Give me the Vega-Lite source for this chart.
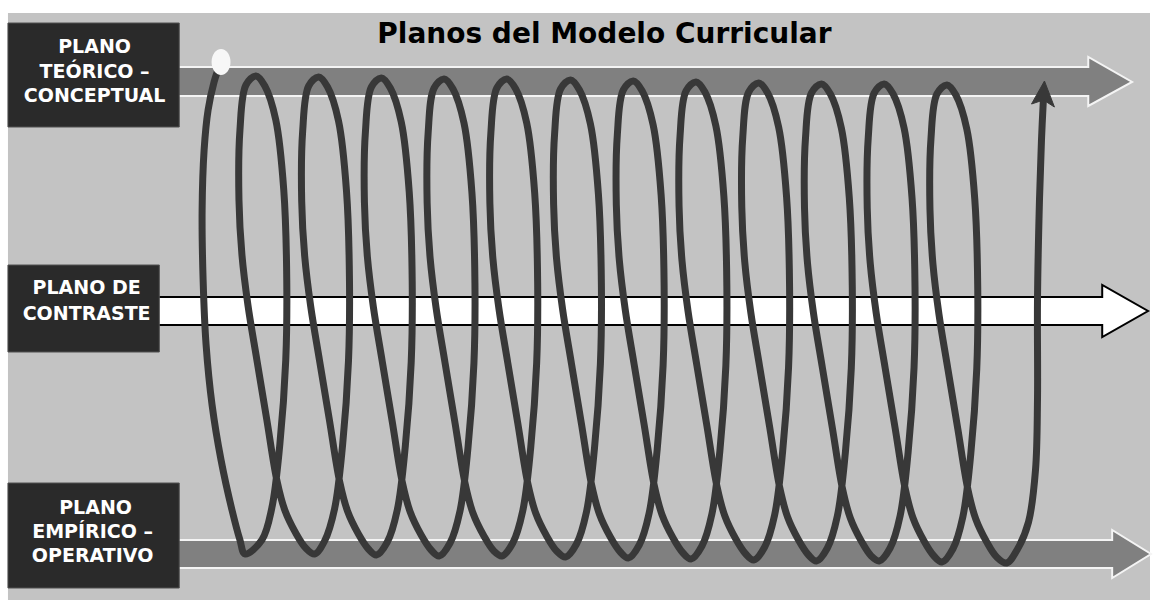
{
  "$schema": "https://vega.github.io/schema/vega-lite/v6.json",
  "width": 1155,
  "height": 600,
  "autosize": {"type": "fit", "contains": "padding"},
  "padding": 0,
  "background": "#ffffff",
  "config": {"view": {"stroke": null}},
  "datasets": {
    "fondo": [{"x": 8, "y": 13, "x2": 1155, "y2": 600}],
    "cajas": [
      {"x": 8, "y": 23, "x2": 180, "y2": 127},
      {"x": 8, "y": 265, "x2": 160, "y2": 352},
      {"x": 8, "y": 483, "x2": 180, "y2": 588}
    ],
    "flechaSup": [
      {"x": 178, "y": 67}, {"x": 1093, "y": 67}, {"x": 1093, "y": 57}, {"x": 1137, "y": 82},
      {"x": 1093, "y": 106}, {"x": 1093, "y": 96}, {"x": 178, "y": 96}
    ],
    "flechaMed": [
      {"x": 158, "y": 297}, {"x": 1107, "y": 297}, {"x": 1107, "y": 285}, {"x": 1153, "y": 311},
      {"x": 1107, "y": 337}, {"x": 1107, "y": 325}, {"x": 158, "y": 325}
    ],
    "flechaInf": [
      {"x": 178, "y": 540}, {"x": 1117, "y": 540}, {"x": 1117, "y": 530}, {"x": 1156, "y": 554},
      {"x": 1117, "y": 578}, {"x": 1117, "y": 568}, {"x": 178, "y": 568}
    ],
    "espiral": [
      {"x": 221, "y": 64}, {"x": 215, "y": 82}, {"x": 209, "y": 110}, {"x": 205, "y": 150}, {"x": 203, "y": 210}, {"x": 204, "y": 280}, {"x": 207, "y": 345}, {"x": 213, "y": 405}, {"x": 222, "y": 460}, {"x": 233, "y": 510}, {"x": 241, "y": 540}, {"x": 246, "y": 554},
      {"x": 263, "y": 540}, {"x": 273, "y": 508}, {"x": 281, "y": 445}, {"x": 287, "y": 360}, {"x": 288, "y": 280}, {"x": 285, "y": 190}, {"x": 277, "y": 120}, {"x": 266, "y": 86}, {"x": 257, "y": 76},
      {"x": 247, "y": 85}, {"x": 241, "y": 130}, {"x": 240, "y": 200}, {"x": 243, "y": 255}, {"x": 249, "y": 305}, {"x": 258, "y": 360}, {"x": 268, "y": 420}, {"x": 278, "y": 480}, {"x": 286, "y": 510}, {"x": 297, "y": 533}, {"x": 307, "y": 548},
      {"x": 316, "y": 554},
      {"x": 326, "y": 541}, {"x": 336, "y": 509}, {"x": 344, "y": 446}, {"x": 350, "y": 361}, {"x": 351, "y": 281}, {"x": 348, "y": 191}, {"x": 340, "y": 121}, {"x": 329, "y": 87}, {"x": 320, "y": 77},
      {"x": 310, "y": 86}, {"x": 304, "y": 131}, {"x": 303, "y": 201}, {"x": 306, "y": 256}, {"x": 312, "y": 306}, {"x": 321, "y": 361}, {"x": 331, "y": 421}, {"x": 341, "y": 481}, {"x": 349, "y": 511}, {"x": 360, "y": 534}, {"x": 370, "y": 549},
      {"x": 378, "y": 555},
      {"x": 389, "y": 542}, {"x": 399, "y": 510}, {"x": 407, "y": 447}, {"x": 413, "y": 362}, {"x": 414, "y": 282}, {"x": 411, "y": 192}, {"x": 403, "y": 122}, {"x": 392, "y": 88}, {"x": 383, "y": 78},
      {"x": 373, "y": 87}, {"x": 367, "y": 132}, {"x": 366, "y": 202}, {"x": 369, "y": 257}, {"x": 375, "y": 307}, {"x": 384, "y": 362}, {"x": 394, "y": 422}, {"x": 404, "y": 482}, {"x": 412, "y": 512}, {"x": 423, "y": 535}, {"x": 433, "y": 550},
      {"x": 441, "y": 556},
      {"x": 452, "y": 543}, {"x": 462, "y": 511}, {"x": 470, "y": 448}, {"x": 476, "y": 363}, {"x": 477, "y": 283}, {"x": 474, "y": 193}, {"x": 466, "y": 123}, {"x": 455, "y": 89}, {"x": 446, "y": 79},
      {"x": 436, "y": 88}, {"x": 430, "y": 133}, {"x": 429, "y": 203}, {"x": 432, "y": 258}, {"x": 438, "y": 308}, {"x": 447, "y": 363}, {"x": 457, "y": 423}, {"x": 467, "y": 483}, {"x": 475, "y": 513}, {"x": 486, "y": 536}, {"x": 496, "y": 551},
      {"x": 504, "y": 556},
      {"x": 515, "y": 543}, {"x": 525, "y": 511}, {"x": 533, "y": 448}, {"x": 539, "y": 363}, {"x": 540, "y": 283}, {"x": 537, "y": 193}, {"x": 529, "y": 123}, {"x": 518, "y": 89}, {"x": 509, "y": 79},
      {"x": 499, "y": 88}, {"x": 493, "y": 133}, {"x": 492, "y": 203}, {"x": 495, "y": 258}, {"x": 501, "y": 308}, {"x": 510, "y": 363}, {"x": 520, "y": 423}, {"x": 530, "y": 483}, {"x": 538, "y": 513}, {"x": 549, "y": 536}, {"x": 559, "y": 551},
      {"x": 568, "y": 557},
      {"x": 579, "y": 544}, {"x": 589, "y": 512}, {"x": 597, "y": 449}, {"x": 603, "y": 364}, {"x": 604, "y": 284}, {"x": 601, "y": 194}, {"x": 593, "y": 124}, {"x": 582, "y": 90}, {"x": 573, "y": 80},
      {"x": 563, "y": 89}, {"x": 557, "y": 134}, {"x": 556, "y": 204}, {"x": 559, "y": 259}, {"x": 565, "y": 309}, {"x": 574, "y": 364}, {"x": 584, "y": 424}, {"x": 594, "y": 484}, {"x": 602, "y": 514}, {"x": 613, "y": 537}, {"x": 623, "y": 552},
      {"x": 631, "y": 558},
      {"x": 642, "y": 545}, {"x": 652, "y": 513}, {"x": 660, "y": 450}, {"x": 666, "y": 365}, {"x": 667, "y": 285}, {"x": 664, "y": 195}, {"x": 656, "y": 125}, {"x": 645, "y": 91}, {"x": 636, "y": 81},
      {"x": 626, "y": 90}, {"x": 620, "y": 135}, {"x": 619, "y": 205}, {"x": 622, "y": 260}, {"x": 628, "y": 310}, {"x": 637, "y": 365}, {"x": 647, "y": 425}, {"x": 657, "y": 485}, {"x": 665, "y": 515}, {"x": 676, "y": 538}, {"x": 686, "y": 553},
      {"x": 694, "y": 559},
      {"x": 705, "y": 546}, {"x": 715, "y": 514}, {"x": 723, "y": 451}, {"x": 729, "y": 366}, {"x": 730, "y": 286}, {"x": 727, "y": 196}, {"x": 719, "y": 126}, {"x": 708, "y": 92}, {"x": 699, "y": 82},
      {"x": 689, "y": 91}, {"x": 683, "y": 136}, {"x": 682, "y": 206}, {"x": 685, "y": 261}, {"x": 691, "y": 311}, {"x": 700, "y": 366}, {"x": 710, "y": 426}, {"x": 720, "y": 486}, {"x": 728, "y": 516}, {"x": 739, "y": 539}, {"x": 749, "y": 554},
      {"x": 757, "y": 560},
      {"x": 768, "y": 547}, {"x": 778, "y": 515}, {"x": 786, "y": 452}, {"x": 792, "y": 367}, {"x": 793, "y": 287}, {"x": 790, "y": 197}, {"x": 782, "y": 127}, {"x": 771, "y": 93}, {"x": 762, "y": 83},
      {"x": 752, "y": 92}, {"x": 746, "y": 137}, {"x": 745, "y": 207}, {"x": 748, "y": 262}, {"x": 754, "y": 312}, {"x": 763, "y": 367}, {"x": 773, "y": 427}, {"x": 783, "y": 487}, {"x": 791, "y": 517}, {"x": 802, "y": 540}, {"x": 812, "y": 555},
      {"x": 820, "y": 561},
      {"x": 831, "y": 548}, {"x": 841, "y": 516}, {"x": 849, "y": 453}, {"x": 855, "y": 368}, {"x": 856, "y": 288}, {"x": 853, "y": 198}, {"x": 845, "y": 128}, {"x": 834, "y": 94}, {"x": 825, "y": 84},
      {"x": 815, "y": 93}, {"x": 809, "y": 138}, {"x": 808, "y": 208}, {"x": 811, "y": 263}, {"x": 817, "y": 313}, {"x": 826, "y": 368}, {"x": 836, "y": 428}, {"x": 846, "y": 488}, {"x": 854, "y": 518}, {"x": 865, "y": 541}, {"x": 875, "y": 556},
      {"x": 883, "y": 561},
      {"x": 894, "y": 548}, {"x": 904, "y": 516}, {"x": 912, "y": 453}, {"x": 918, "y": 368}, {"x": 919, "y": 288}, {"x": 916, "y": 198}, {"x": 908, "y": 128}, {"x": 897, "y": 94}, {"x": 888, "y": 84},
      {"x": 878, "y": 93}, {"x": 872, "y": 138}, {"x": 871, "y": 208}, {"x": 874, "y": 263}, {"x": 880, "y": 313}, {"x": 889, "y": 368}, {"x": 899, "y": 428}, {"x": 909, "y": 488}, {"x": 917, "y": 518}, {"x": 928, "y": 541}, {"x": 938, "y": 556},
      {"x": 946, "y": 562},
      {"x": 957, "y": 549}, {"x": 967, "y": 517}, {"x": 975, "y": 454}, {"x": 981, "y": 369}, {"x": 982, "y": 289}, {"x": 979, "y": 199}, {"x": 971, "y": 129}, {"x": 960, "y": 95}, {"x": 951, "y": 85},
      {"x": 941, "y": 94}, {"x": 935, "y": 139}, {"x": 934, "y": 209}, {"x": 937, "y": 264}, {"x": 943, "y": 314}, {"x": 952, "y": 369}, {"x": 962, "y": 429}, {"x": 972, "y": 489}, {"x": 980, "y": 519}, {"x": 991, "y": 542}, {"x": 1001, "y": 557},
      {"x": 1011, "y": 563},
      {"x": 1022, "y": 549}, {"x": 1033, "y": 522}, {"x": 1040, "y": 470}, {"x": 1042, "y": 400}, {"x": 1042, "y": 300}, {"x": 1044, "y": 200}, {"x": 1046, "y": 140}, {"x": 1048, "y": 98}
    ],
    "punta": [
      {"x": 1049, "y": 81}, {"x": 1059, "y": 107}, {"x": 1048, "y": 100}, {"x": 1036, "y": 104}
    ],
    "inicio": [{"x": 222, "y": 62}],
    "textos": [
      {"x": 95, "y": 53, "t": "PLANO"},
      {"x": 95, "y": 78, "t": "TEÓRICO –"},
      {"x": 95, "y": 102, "t": "CONCEPTUAL"},
      {"x": 87, "y": 294, "t": "PLANO DE"},
      {"x": 87, "y": 320, "t": "CONTRASTE"},
      {"x": 96, "y": 514, "t": "PLANO"},
      {"x": 93, "y": 538, "t": "EMPÍRICO –"},
      {"x": 93, "y": 562, "t": "OPERATIVO"}
    ],
    "titulo": [{"x": 607, "y": 43, "t": "Planos del Modelo Curricular"}]
  },
  "encoding": {
    "x": {"field": "x", "type": "quantitative", "scale": {"domain": [0, 1155], "nice": false, "zero": false}, "axis": null},
    "y": {"field": "y", "type": "quantitative", "scale": {"domain": [0, 600], "nice": false, "zero": false, "reverse": true}, "axis": null}
  },
  "layer": [
    {
      "data": {"name": "fondo"},
      "mark": {"type": "rect", "fill": "#c3c3c3"},
      "encoding": {"x2": {"field": "x2"}, "y2": {"field": "y2"}}
    },
    {
      "data": {"name": "flechaSup"},
      "transform": [{"window": [{"op": "row_number", "as": "o"}]}],
      "mark": {"type": "line", "fill": "#808080", "stroke": "#f4f4f4", "strokeWidth": 2, "strokeJoin": "miter", "interpolate": "linear"},
      "encoding": {"order": {"field": "o", "type": "quantitative"}}
    },
    {
      "data": {"name": "flechaMed"},
      "transform": [{"window": [{"op": "row_number", "as": "o"}]}],
      "mark": {"type": "line", "fill": "#ffffff", "stroke": "#000000", "strokeWidth": 2, "strokeJoin": "miter", "interpolate": "linear"},
      "encoding": {"order": {"field": "o", "type": "quantitative"}}
    },
    {
      "data": {"name": "flechaInf"},
      "transform": [{"window": [{"op": "row_number", "as": "o"}]}],
      "mark": {"type": "line", "fill": "#808080", "stroke": "#f4f4f4", "strokeWidth": 2, "strokeJoin": "miter", "interpolate": "linear"},
      "encoding": {"order": {"field": "o", "type": "quantitative"}}
    },
    {
      "data": {"name": "espiral"},
      "transform": [{"window": [{"op": "row_number", "as": "o"}]}],
      "mark": {"type": "line", "stroke": "#383838", "strokeWidth": 7, "strokeCap": "round", "strokeJoin": "round", "interpolate": "catmull-rom"},
      "encoding": {"order": {"field": "o", "type": "quantitative"}}
    },
    {
      "data": {"name": "punta"},
      "transform": [{"window": [{"op": "row_number", "as": "o"}]}],
      "mark": {"type": "line", "fill": "#383838", "stroke": "#383838", "strokeWidth": 1, "interpolate": "linear-closed"},
      "encoding": {"order": {"field": "o", "type": "quantitative"}}
    },
    {
      "data": {"name": "cajas"},
      "mark": {"type": "rect", "fill": "#2a2a2a", "stroke": "#505050", "strokeWidth": 1},
      "encoding": {"x2": {"field": "x2"}, "y2": {"field": "y2"}}
    },
    {
      "data": {"name": "textos"},
      "mark": {"type": "text", "font": "DejaVu Sans", "fontWeight": "bold", "fontSize": 19, "fill": "#ffffff", "align": "center", "baseline": "alphabetic"},
      "encoding": {"text": {"field": "t"}}
    },
    {
      "data": {"name": "titulo"},
      "mark": {"type": "text", "font": "DejaVu Sans", "fontWeight": "bold", "fontSize": 28, "fill": "#000000", "align": "center", "baseline": "alphabetic"},
      "encoding": {"text": {"field": "t"}}
    },
    {
      "data": {"name": "inicio"},
      "mark": {"type": "point", "shape": "M -0.73 0 A 0.73 1 0 1 0 0.73 0 A 0.73 1 0 1 0 -0.73 0 Z", "size": 676, "filled": true, "fill": "#f7f7f7", "strokeWidth": 0, "opacity": 1}
    }
  ]
}
